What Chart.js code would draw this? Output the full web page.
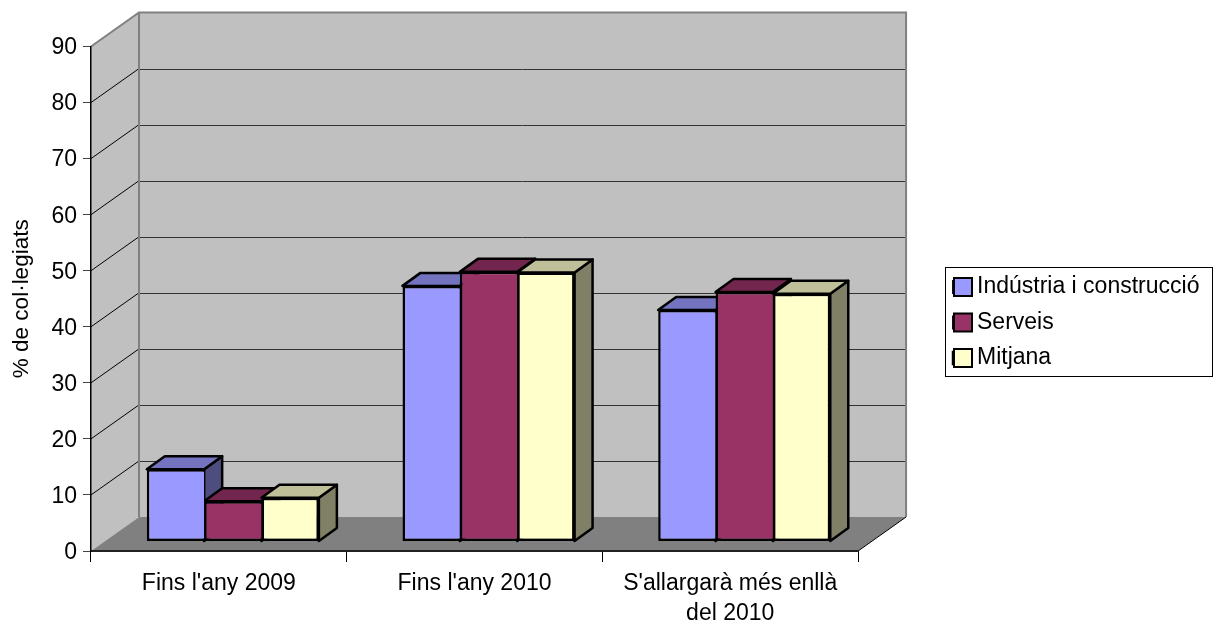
<!DOCTYPE html>
<html>
<head>
<meta charset="utf-8">
<title>% de col·legiats</title>
<script src="https://cdn.jsdelivr.net/npm/chart.js@4/dist/chart.umd.min.js"></script>
<style>
  html, body { margin: 0; padding: 0; background: #fff; }
  canvas { display: block; }
</style>
</head>
<body>
<canvas id="chart" width="1213" height="625"></canvas>
<script>
// data
const categories = ["Fins l'any 2009", "Fins l'any 2010", ["S'allargarà més enllà", "del 2010"]];
const industria = [12.9, 45.6, 41.3];
const serveis = [7.2, 48.1, 44.5];
const mitjana = [7.8, 48.0, 44.2];
const seriesNames = ['Indústria i construcció', 'Serveis', 'Mitjana'];
const yTicks = [0, 10, 20, 30, 40, 50, 60, 70, 80, 90];

// colours of the faces: front, top, side
const frontColors = ['#9999FF', '#993366', '#FFFFCC'];
const topColors = ['#7373BF', '#73264D', '#BFBF99'];
const sideColors = ['#4D4D80', '#4D1A33', '#808066'];

// 3d offsets of the box and of the bars inside it
const WALL_DX = 48, WALL_DY = -34;
const BAR_DX = 14, BAR_DY = -9.5;
const DEPTH_DX = 18, DEPTH_DY = -13;
const FONT = 'Liberation Sans';

function poly(ctx, pts, fill, stroke, lw) {
    ctx.beginPath();
    pts.forEach((p, i) => i ? ctx.lineTo(p[0], p[1]) : ctx.moveTo(p[0], p[1]));
    ctx.closePath();
    if (fill) { ctx.fillStyle = fill; ctx.fill(); }
    if (stroke) { ctx.strokeStyle = stroke; ctx.lineWidth = lw; ctx.lineJoin = 'round'; ctx.stroke(); }
}

// walls, floor and gridlines of the 3d box
const box3d = {
    id: 'box3d',
    beforeDraw(chart) {
        const { ctx, chartArea: a, scales } = chart;
        const y = scales.y;
        const top = y.getPixelForValue(yTicks[yTicks.length - 1]);
        const bot = y.getPixelForValue(0);
        ctx.save();
        // left wall and back wall
        poly(ctx, [[a.left, top], [a.left + WALL_DX, top + WALL_DY], [a.left + WALL_DX, bot + WALL_DY], [a.left, bot]], '#C0C0C0');
        poly(ctx, [[a.left + WALL_DX, top + WALL_DY], [a.right + WALL_DX, top + WALL_DY], [a.right + WALL_DX, bot + WALL_DY], [a.left + WALL_DX, bot + WALL_DY]], '#C0C0C0');
        // floor
        poly(ctx, [[a.left, bot], [a.left + WALL_DX, bot + WALL_DY], [a.right + WALL_DX, bot + WALL_DY], [a.right, bot]], '#808080');
        // gridlines
        yTicks.slice(1, -1).forEach(v => {
            const py = y.getPixelForValue(v);
            ctx.beginPath();
            ctx.moveTo(a.left, py);
            ctx.lineTo(a.left + WALL_DX, py + WALL_DY);
            ctx.strokeStyle = '#000';
            ctx.lineWidth = 1;
            ctx.stroke();
            ctx.beginPath();
            ctx.moveTo(a.left + WALL_DX, Math.round(py + WALL_DY) + 0.5);
            ctx.lineTo(a.right + WALL_DX, Math.round(py + WALL_DY) + 0.5);
            ctx.strokeStyle = '#333';
            ctx.stroke();
        });
        // wall outline
        ctx.beginPath();
        ctx.moveTo(a.left, top);
        ctx.lineTo(a.left + WALL_DX, top + WALL_DY);
        ctx.lineTo(a.right + WALL_DX, top + WALL_DY);
        ctx.lineTo(a.right + WALL_DX, bot + WALL_DY);
        ctx.moveTo(a.left + WALL_DX, top + WALL_DY);
        ctx.lineTo(a.left + WALL_DX, bot + WALL_DY);
        ctx.strokeStyle = '#808080';
        ctx.lineWidth = 2;
        ctx.stroke();
        // floor edge on the right
        ctx.beginPath();
        ctx.moveTo(a.right, bot);
        ctx.lineTo(a.right + WALL_DX, bot + WALL_DY);
        ctx.strokeStyle = '#000';
        ctx.lineWidth = 1;
        ctx.stroke();
        ctx.restore();
    },
    // sides and tops go first, chart.js then paints the fronts over them
    beforeDatasetsDraw(chart) {
        const ctx = chart.ctx;
        ctx.save();
        ctx.translate(BAR_DX, BAR_DY);
        categories.forEach((c, i) => {
            chart.data.datasets.forEach((ds, d) => {
                const b = chart.getDatasetMeta(d).data[i];
                const l = b.x - b.width / 2, r = b.x + b.width / 2;
                poly(ctx, [[r, b.y], [r + DEPTH_DX, b.y + DEPTH_DY], [r + DEPTH_DX, b.base + DEPTH_DY], [r, b.base]], sideColors[d], '#000', 2.5);
                poly(ctx, [[l, b.y], [l + DEPTH_DX, b.y + DEPTH_DY], [r + DEPTH_DX, b.y + DEPTH_DY], [r, b.y]], topColors[d], '#000', 2.5);
            });
        });
    },
    afterDatasetsDraw(chart) {
        chart.ctx.restore();
    },
    afterLayout(chart) {
        const l = chart.legend;
        const w = l.width;
        l.left = 940.5;
        l.right = 940.5 + w;
        l.top = 263;
        l.bottom = 385;
        l.adjustHitBoxes();
    },
    // legend frame and swatches
    afterDraw(chart) {
        const ctx = chart.ctx;
        const l = chart.legend;
        const pad = l.options.labels.padding;
        ctx.save();
        ctx.strokeStyle = '#000';
        ctx.lineWidth = 1;
        ctx.strokeRect(945.5, 267.5, 267, 109);
        l.legendHitBoxes.forEach((h, d) => {
            const sx = l.left + pad + 1;
            const sy = h.top + 11.5 - 9;
            ctx.fillStyle = frontColors[d];
            ctx.lineWidth = 2;
            ctx.fillRect(sx, sy, 18, 18);
            ctx.strokeRect(sx, sy, 18, 18);
        });
        ctx.restore();
    }
};

new Chart(document.getElementById('chart'), {
    type: 'bar',
    data: {
        labels: categories,
        datasets: [
            { label: seriesNames[0], data: industria, backgroundColor: frontColors[0], borderWidth: { top: 2.5, left: 2.5, bottom: 2.5, right: 0 } },
            { label: seriesNames[1], data: serveis, backgroundColor: frontColors[1], borderWidth: { top: 2.5, left: 2.5, bottom: 2.5, right: 0 } },
            { label: seriesNames[2], data: mitjana, backgroundColor: frontColors[2], borderWidth: 2.5 }
        ]
    },
    plugins: [box3d],
    options: {
        responsive: false,
        animation: false,
        events: [],
        layout: { padding: { top: 46.5, right: 86, bottom: 0, left: 0 } },
        datasets: {
            bar: {
                borderColor: '#000',
                borderSkipped: false,
                categoryPercentage: 0.673,
                barPercentage: 1
            }
        },
        plugins: {
            tooltip: { enabled: false },
            legend: {
                position: 'right',
                align: 'start',
                labels: {
                    color: '#000',
                    boxWidth: 12.5,
                    boxHeight: 12,
                    padding: 12.5,
                    font: { family: FONT, size: 23 }
                }
            }
        },
        scales: {
            x: {
                afterFit(scale) { scale.height = 74; },
                border: { color: '#222', width: 2 },
                grid: { drawOnChartArea: false, color: '#000', tickLength: 11 },
                ticks: {
                    color: '#000',
                    padding: 7,
                    autoSkip: false,
                    maxRotation: 0,
                    minRotation: 0,
                    font: { family: FONT, size: 23, lineHeight: 1.3 }
                }
            },
            y: {
                min: 0,
                max: 90,
                afterFit(scale) { scale.width = 91; },
                afterBuildTicks(scale) { scale.ticks = yTicks.map(v => ({ value: v })); },
                title: {
                    display: true,
                    text: '% de col·legiats',
                    color: '#000',
                    padding: { top: 8, bottom: 0 },
                    font: { family: FONT, size: 22.5, weight: 'normal' }
                },
                border: { color: '#000', width: 1.5 },
                grid: { drawOnChartArea: false, color: '#444', tickLength: 8 },
                ticks: {
                    color: '#000',
                    padding: 6,
                    labelOffset: 1.5,
                    font: { family: FONT, size: 23 }
                }
            }
        }
    }
});
</script>
</body>
</html>
